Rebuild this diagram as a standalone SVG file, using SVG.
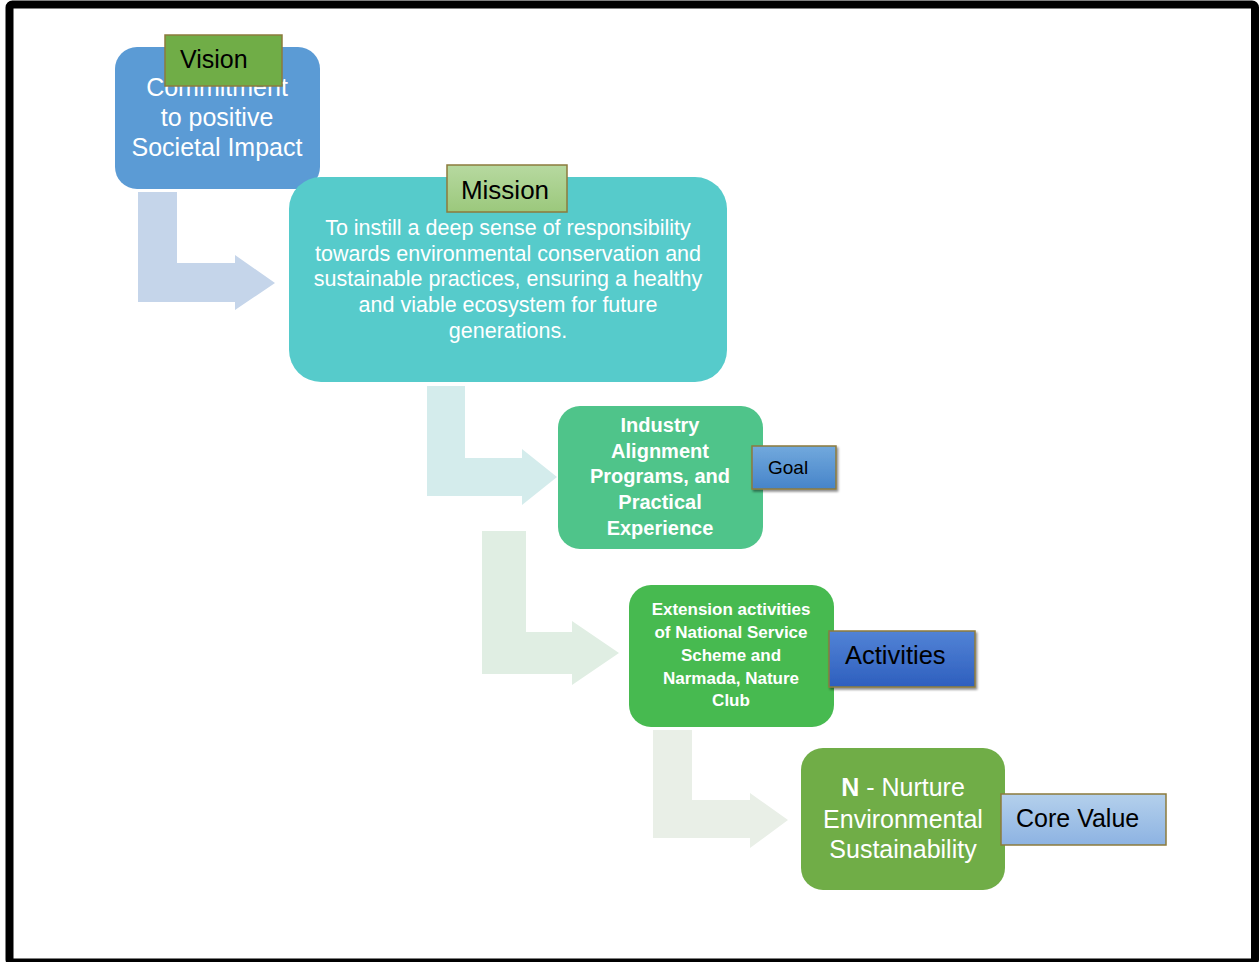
<svg xmlns="http://www.w3.org/2000/svg" width="1259" height="962" viewBox="0 0 1259 962">
<defs>
<style>
.t{font-family:"Liberation Sans",Arial,sans-serif;text-anchor:middle;fill:#ffffff}
.lbl{font-family:"Liberation Sans",Arial,sans-serif;fill:#000000}
.tag{stroke:#8c7b3c;stroke-width:1.5}
</style>
<linearGradient id="gMission" x1="0" y1="0" x2="0" y2="1"><stop offset="0" stop-color="#b7d9a0"/><stop offset="1" stop-color="#9bc87c"/></linearGradient>
<linearGradient id="gGoal" x1="0" y1="0" x2="0" y2="1"><stop offset="0" stop-color="#72a9dd"/><stop offset="1" stop-color="#4684c9"/></linearGradient>
<linearGradient id="gAct" x1="0" y1="0" x2="0" y2="1"><stop offset="0" stop-color="#5283d6"/><stop offset="1" stop-color="#2e5fbe"/></linearGradient>
<linearGradient id="gCore" x1="0" y1="0" x2="0" y2="1"><stop offset="0" stop-color="#b4d0ec"/><stop offset="1" stop-color="#8db3e2"/></linearGradient>
<filter id="sh" x="-10%" y="-10%" width="130%" height="140%"><feDropShadow dx="1.5" dy="2" stdDeviation="1" flood-color="#000" flood-opacity="0.45"/></filter>
</defs>
<rect x="0" y="0" width="1259" height="962" fill="#ffffff"/>
<rect x="9.5" y="4.5" width="1245.5" height="958" fill="none" stroke="#000" stroke-width="8" rx="3"/>

<g id="connectors">
<polygon points="138,192 177,192 177,263 235,263 235,255 275,283 235,310 235,302 138,302" fill="#c5d5ea"/>
<polygon points="427,386 465,386 465,458 522,458 522,449 557,477 522,505 522,496 427,496" fill="#d4ecec"/>
<polygon points="482,531 526,531 526,632 572,632 572,621 619,653 572,685 572,674 482,674" fill="#e0eee3"/>
<polygon points="653,730 692,730 692,800 750,800 750,793 788,820 750,848 750,838 653,838" fill="#e9efe7"/>
</g>

<g id="vision">
<rect x="115" y="47" width="205" height="142" rx="22" fill="#5b9bd5"/>
<text class="t" font-size="25" x="217" y="96">Commitment</text>
<text class="t" font-size="25" x="217" y="126">to positive</text>
<text class="t" font-size="25" x="217" y="156">Societal Impact</text>
</g>
<g id="vision-label">
<rect class="tag" x="165" y="35" width="117" height="51" fill="#70ad47"/>
<text class="lbl" font-size="25" x="180" y="68">Vision</text>
</g>

<g id="mission">
<rect x="289" y="177" width="438" height="205" rx="32" fill="#56cbcb"/>
<text class="t" font-size="21.5" x="508" y="235">To instill a deep sense of responsibility</text>
<text class="t" font-size="21.5" x="508" y="261">towards environmental conservation and</text>
<text class="t" font-size="21.5" x="508" y="286">sustainable practices, ensuring a healthy</text>
<text class="t" font-size="21.5" x="508" y="312">and viable ecosystem for future</text>
<text class="t" font-size="21.5" x="508" y="338">generations.</text>
</g>
<g id="mission-label">
<rect class="tag" x="447" y="165" width="120" height="47" fill="url(#gMission)"/>
<text class="lbl" font-size="26" x="505" y="199" text-anchor="middle">Mission</text>
</g>

<g id="goal">
<rect x="558" y="406" width="205" height="143" rx="22" fill="#4fc48a"/>
<text class="t" font-size="20" font-weight="bold" x="660" y="432">Industry</text>
<text class="t" font-size="20" font-weight="bold" x="660" y="458">Alignment</text>
<text class="t" font-size="20" font-weight="bold" x="660" y="483">Programs, and</text>
<text class="t" font-size="20" font-weight="bold" x="660" y="509">Practical</text>
<text class="t" font-size="20" font-weight="bold" x="660" y="535">Experience</text>
</g>
<g id="goal-label">
<rect class="tag" x="752" y="446" width="84" height="43" fill="url(#gGoal)" filter="url(#sh)"/>
<text class="lbl" font-size="19" x="768" y="474">Goal</text>
</g>

<g id="activities">
<rect x="629" y="585" width="205" height="142" rx="22" fill="#47ba50"/>
<text class="t" font-size="17" font-weight="bold" x="731" y="615">Extension activities</text>
<text class="t" font-size="17" font-weight="bold" x="731" y="638">of National Service</text>
<text class="t" font-size="17" font-weight="bold" x="731" y="661">Scheme and</text>
<text class="t" font-size="17" font-weight="bold" x="731" y="684">Narmada, Nature</text>
<text class="t" font-size="17" font-weight="bold" x="731" y="706">Club</text>
</g>
<g id="activities-label">
<rect class="tag" x="829" y="631" width="146" height="56" fill="url(#gAct)" filter="url(#sh)"/>
<text class="lbl" font-size="25.5" x="845" y="664">Activities</text>
</g>

<g id="core-value">
<rect x="801" y="748" width="204" height="142" rx="22" fill="#70ad47"/>
<text class="t" font-size="25" x="903" y="796"><tspan font-weight="bold">N</tspan> - Nurture</text>
<text class="t" font-size="25" x="903" y="828">Environmental</text>
<text class="t" font-size="25" x="903" y="858">Sustainability</text>
</g>
<g id="core-value-label">
<rect class="tag" x="1001" y="794" width="165" height="51" fill="url(#gCore)"/>
<text class="lbl" font-size="25" x="1016" y="827">Core Value</text>
</g>
</svg>
